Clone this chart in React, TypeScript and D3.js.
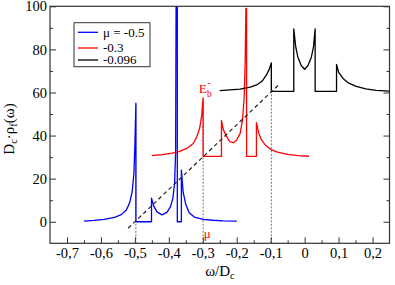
import { useEffect, useRef } from 'react'
import * as d3 from 'd3'

type Pt = [number, number]

// spectral densities (offset by 0 / 30 / 60)
const blueDos: Pt[] = [
  [-0.65, 0.3], [-0.62, 0.6], [-0.59, 1.1], [-0.56, 2.0], [-0.54, 3.3],
  [-0.525, 5.5], [-0.515, 9], [-0.508, 14], [-0.503, 22], [-0.5, 35],
  [-0.497, 55], [-0.497, 0], [-0.451, 0], [-0.451, 11], [-0.445, 7.5],
  [-0.435, 4.6], [-0.42, 3.2], [-0.405, 4.5], [-0.395, 7], [-0.388, 11],
  [-0.383, 18], [-0.38, 32], [-0.378, 130], [-0.375, 130], [-0.375, 0],
  [-0.363, 0], [-0.363, 24], [-0.358, 14], [-0.35, 8], [-0.34, 4.2],
  [-0.325, 2.2], [-0.3, 1.1], [-0.27, 0.7], [-0.24, 0.45], [-0.2, 0.3],
]

const redDos: Pt[] = [
  [-0.45, 30.7], [-0.42, 31.2], [-0.39, 31.9], [-0.368, 32.7], [-0.345, 34.2],
  [-0.328, 36.3], [-0.318, 39.3], [-0.309, 43.5], [-0.303, 49.5], [-0.299, 57.5],
  [-0.299, 30.3], [-0.245, 30.3], [-0.245, 47], [-0.24, 43], [-0.23, 39.5],
  [-0.22, 37.2], [-0.21, 36.7], [-0.2, 38], [-0.19, 41], [-0.183, 47],
  [-0.178, 58], [-0.175, 75], [-0.173, 99], [-0.171, 99], [-0.171, 30.3],
  [-0.142, 30.3], [-0.142, 46], [-0.135, 41], [-0.127, 38], [-0.115, 35.5],
  [-0.1, 33.6], [-0.08, 32.3], [-0.05, 31.3], [-0.02, 30.7], [0.013, 30.4],
]

const blackDos: Pt[] = [
  [-0.25, 60.9], [-0.22, 61.2], [-0.19, 61.6], [-0.16, 62.5], [-0.14, 63.6],
  [-0.125, 65.3], [-0.113, 68], [-0.105, 70.5], [-0.098, 73.7], [-0.098, 60.5],
  [-0.032, 60.5], [-0.032, 89.5], [-0.026, 81], [-0.02, 76.5], [-0.01, 72.5],
  [0, 70.8], [0.01, 72.5], [0.02, 76.5], [0.026, 81], [0.031, 89.5],
  [0.031, 60.5], [0.094, 60.5], [0.094, 73], [0.1, 69.5], [0.113, 66.5],
  [0.13, 64.3], [0.152, 62.8], [0.18, 61.7], [0.211, 61], [0.25, 60.6],
]

const guideLine: Pt[] = [[-0.52, -3], [-0.075, 63.75]]
const muMarks = [-0.497, -0.299, -0.098]
const muPeaks = [55, 57, 73.7]

const legendLabels = ['\u03bc = -0.5', '-0.3', '-0.096']
const seriesColors = ['#0000ff', '#ff0000', '#000000']

const xMajor = [-0.7, -0.6, -0.5, -0.4, -0.3, -0.2, -0.1, 0, 0.1, 0.2]
const xMinor = [-0.65, -0.55, -0.45, -0.35, -0.25, -0.15, -0.05, 0.05, 0.15]
const yMajor = [0, 20, 40, 60, 80, 100]
const yMinor = [10, 30, 50, 70, 90]

const W = 395
const H = 285

type Part = { t: string; sub?: boolean }

const richText = (
  sel: d3.Selection<SVGTextElement, unknown, null, undefined>,
  parts: Part[],
  size: number
) => {
  parts.forEach((p) => {
    sel
      .append('tspan')
      .attr('font-size', p.sub ? size * 0.7 : size)
      .attr('baseline-shift', p.sub ? '-0.3em' : null)
      .text(p.t)
  })
}

const App = () => {
  const ref = useRef<SVGSVGElement | null>(null)

  useEffect(() => {
    if (!ref.current) return
    const svg = d3.select(ref.current)
    svg.selectAll('*').remove()

    const left = 50
    const right = 389.5
    const top = 6.3
    const bottom = 243.3

    const x = d3.scaleLinear().domain([-0.75, 0.25]).range([left, right])
    const y = d3.scaleLinear().domain([-10, 100]).range([bottom, top])

    svg
      .append('defs')
      .append('clipPath')
      .attr('id', 'plot-clip')
      .append('rect')
      .attr('x', left)
      .attr('y', top)
      .attr('width', right - left)
      .attr('height', bottom - top)

    const line = d3
      .line<Pt>()
      .x((d) => x(d[0]))
      .y((d) => y(d[1]))

    const plot = svg.append('g').attr('clip-path', 'url(#plot-clip)')

    // dotted markers at the chemical potentials
    muMarks.forEach((m, i) => {
      plot
        .append('line')
        .attr('x1', x(m))
        .attr('x2', x(m))
        .attr('y1', y(-10))
        .attr('y2', y(muPeaks[i]))
        .attr('stroke', '#777')
        .attr('stroke-width', 1)
        .attr('stroke-dasharray', '2,1.5')
    })

    const curves = [blueDos, redDos, blackDos]
    curves.forEach((c, i) => {
      plot
        .append('path')
        .datum(c)
        .attr('fill', 'none')
        .attr('stroke', seriesColors[i])
        .attr('stroke-width', 1.3)
        .attr('stroke-linejoin', 'round')
        .attr('d', line)
    })

    plot
      .append('path')
      .datum(guideLine)
      .attr('fill', 'none')
      .attr('stroke', '#222')
      .attr('stroke-width', 1.2)
      .attr('stroke-dasharray', '4,3')
      .attr('d', line)

    // frame
    svg
      .append('rect')
      .attr('x', left)
      .attr('y', top)
      .attr('width', right - left)
      .attr('height', bottom - top)
      .attr('fill', 'none')
      .attr('stroke', '#333')
      .attr('stroke-width', 1.2)

    const fmtX = (v: d3.NumberValue) =>
      +v === 0 ? '0' : d3.format('.1f')(+v).replace('\u2212', '-').replace('.', ',')

    const styleAxis = (g: d3.Selection<SVGGElement, unknown, null, undefined>) => {
      g.attr('font-family', null).attr('font-size', 14.5)
      g.select('.domain').remove()
      g.selectAll('line').attr('stroke', '#333')
      g.selectAll('text').attr('fill', '#000')
    }

    svg
      .append('g')
      .attr('transform', `translate(0,${bottom})`)
      .call(d3.axisBottom(x).tickValues(xMajor).tickSize(-6).tickPadding(4.5).tickFormat(fmtX))
      .call(styleAxis)
    svg
      .append('g')
      .attr('transform', `translate(0,${bottom})`)
      .call(d3.axisBottom(x).tickValues(xMinor).tickSize(-3).tickFormat(() => ''))
      .call(styleAxis)

    svg
      .append('g')
      .attr('transform', `translate(${left},0)`)
      .call(d3.axisLeft(y).tickValues(yMajor).tickSize(-6).tickPadding(3))
      .call(styleAxis)
    svg
      .append('g')
      .attr('transform', `translate(${left},0)`)
      .call(d3.axisLeft(y).tickValues(yMinor).tickSize(-3).tickFormat(() => ''))
      .call(styleAxis)
    svg
      .append('g')
      .attr('transform', `translate(${right},0)`)
      .call(d3.axisRight(y).tickValues(yMajor).tickSize(-6).tickFormat(() => ''))
      .call(styleAxis)
    svg
      .append('g')
      .attr('transform', `translate(${right},0)`)
      .call(d3.axisRight(y).tickValues(yMinor).tickSize(-3).tickFormat(() => ''))
      .call(styleAxis)

    // axis titles
    const xt = svg
      .append('text')
      .attr('x', 220)
      .attr('y', 275.5)
      .attr('text-anchor', 'middle')
    richText(xt, [{ t: '\u03c9/D' }, { t: 'c', sub: true }], 15)

    const yt = svg
      .append('text')
      .attr('transform', 'translate(13.5,129) rotate(-90)')
      .attr('text-anchor', 'middle')
    richText(
      yt,
      [
        { t: 'D' },
        { t: 'c', sub: true },
        { t: '\u00b7\u03c1' },
        { t: 'f', sub: true },
        { t: '(\u03c9)' },
      ],
      15
    )

    // annotations
    const note = (tx: number, ty: number, size: number, s: string) =>
      svg
        .append('text')
        .attr('x', tx)
        .attr('y', ty)
        .attr('font-size', size)
        .attr('fill', '#ff0000')
        .text(s)
    note(x(-0.3) + 1, 238, 13, '\u03bc')
    note(x(-0.3) - 4, 92.7, 13.5, 'E')
    note(x(-0.3) + 4.3, 96.5, 9.5, 'b')
    note(x(-0.3) + 4.8, 86, 9.5, '-')

    // legend
    const lg = svg.append('g')
    lg.append('rect')
      .attr('x', 74)
      .attr('y', 22.7)
      .attr('width', 76)
      .attr('height', 44)
      .attr('fill', '#fff')
      .attr('stroke', '#333')
      .attr('stroke-width', 1)
    const rows = [32.3, 48, 60]
    legendLabels.forEach((lab, i) => {
      lg.append('line')
        .attr('x1', 78)
        .attr('x2', 98)
        .attr('y1', rows[i])
        .attr('y2', rows[i])
        .attr('stroke', seriesColors[i])
        .attr('stroke-width', 1.3)
      lg.append('text')
        .attr('x', 103)
        .attr('y', rows[i])
        .attr('dy', '0.33em')
        .attr('font-size', 13)
        .text(lab)
    })
  }, [])

  return (
    <svg
      ref={ref}
      width={W}
      height={H}
      style={{
        position: 'absolute',
        left: 0,
        top: 0,
        background: '#fff',
        fontFamily: '"Liberation Serif", "Times New Roman", Times, serif',
      }}
    />
  )
}

export default App
